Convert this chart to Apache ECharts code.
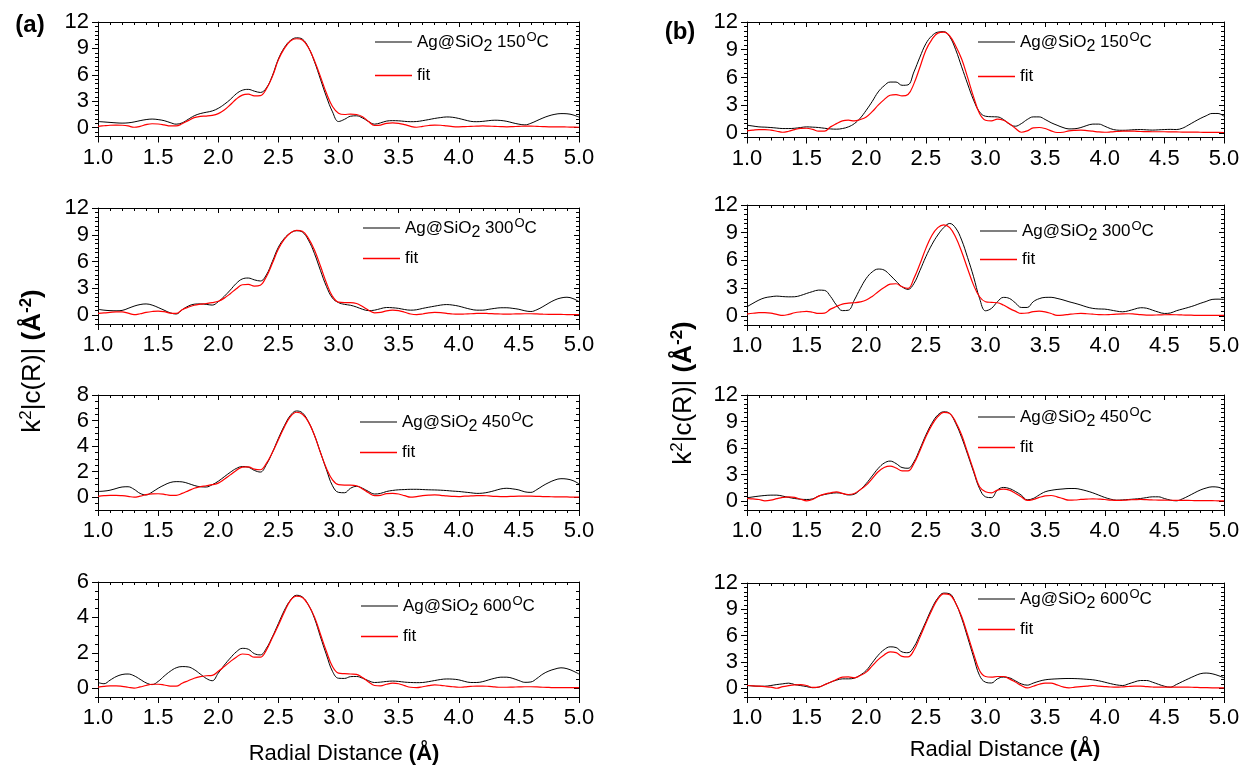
<!DOCTYPE html>
<html>
<head>
<meta charset="utf-8">
<script src="https://cdn.jsdelivr.net/npm/echarts@6/dist/echarts.min.js"></script>
<style>
html, body { margin: 0; padding: 0; background: #fff; }
#main { width: 1246px; height: 768px; }
</style>
</head>
<body>
<div id="main"></div>
<script>
// radial distance grid (Å)
var R = [
1.00,1.05,1.10,1.15,1.20,1.25,1.30,1.35,1.40,1.45,
1.50,1.55,1.60,1.65,1.70,1.75,1.80,1.85,1.90,1.95,
2.00,2.05,2.10,2.15,2.20,2.25,2.30,2.35,2.40,2.45,
2.50,2.55,2.60,2.65,2.70,2.75,2.80,2.85,2.90,2.95,
3.00,3.05,3.10,3.15,3.20,3.25,3.30,3.35,3.40,3.45,
3.50,3.55,3.60,3.65,3.70,3.75,3.80,3.85,3.90,3.95,
4.00,4.05,4.10,4.15,4.20,4.25,4.30,4.35,4.40,4.45,
4.50,4.55,4.60,4.65,4.70,4.75,4.80,4.85,4.90,4.95,
5.00];

var temps = ['150', '300', '450', '600'];

// y tick labels
var yTicks12 = [0, 3, 6, 9, 12];
var yTicks8 = [0, 2, 4, 6, 8];
var yTicks6 = [0, 2, 4, 6];

// (a) data and fits
var aData150 = [
0.70,0.65,0.60,0.55,0.52,0.55,0.65,0.80,0.92,0.98,
0.92,0.80,0.58,0.40,0.55,0.95,1.35,1.60,1.75,1.90,
2.20,2.65,3.20,3.85,4.25,4.35,4.15,4.00,4.50,5.90,
7.80,9.10,9.90,10.20,10.05,9.10,7.50,5.50,3.50,1.80,
0.70,0.95,1.30,1.35,1.10,0.70,0.40,0.55,0.75,0.80,
0.78,0.72,0.68,0.70,0.80,0.92,1.05,1.15,1.22,1.18,
1.05,0.88,0.72,0.68,0.72,0.80,0.85,0.82,0.72,0.55,
0.40,0.32,0.50,0.80,1.10,1.35,1.52,1.60,1.58,1.45,
1.20];
var aFit150 = [
0.15,0.22,0.28,0.30,0.28,0.20,0.05,0.15,0.35,0.45,
0.42,0.32,0.20,0.20,0.45,0.80,1.15,1.28,1.32,1.40,
1.60,2.00,2.60,3.25,3.70,3.80,3.62,3.65,4.40,5.80,
7.70,9.00,9.85,10.10,9.95,9.10,7.60,5.80,3.90,2.40,
1.65,1.50,1.55,1.50,1.25,0.70,0.25,0.30,0.50,0.55,
0.50,0.35,0.15,0.05,0.15,0.25,0.30,0.28,0.20,0.12,
0.10,0.12,0.15,0.18,0.20,0.18,0.15,0.12,0.10,0.12,
0.15,0.18,0.18,0.15,0.12,0.10,0.10,0.10,0.08,0.07,
0.05];
var aData300 = [
0.65,0.55,0.50,0.48,0.52,0.75,1.00,1.18,1.25,1.12,
0.85,0.55,0.25,0.12,0.60,1.00,1.22,1.25,1.20,1.12,
1.50,2.10,2.80,3.55,4.05,4.15,3.95,3.82,4.50,6.00,
7.60,8.60,9.20,9.45,9.30,8.40,6.90,5.00,3.20,1.90,
1.40,1.20,1.10,0.90,0.65,0.50,0.55,0.72,0.85,0.82,
0.75,0.62,0.55,0.60,0.75,0.88,1.00,1.12,1.18,1.12,
1.00,0.82,0.65,0.55,0.55,0.65,0.75,0.82,0.82,0.75,
0.65,0.48,0.40,0.60,0.95,1.35,1.70,1.92,2.00,1.85,
1.50];
var aFit300 = [
0.18,0.25,0.30,0.35,0.35,0.22,0.05,0.15,0.30,0.40,
0.45,0.38,0.22,0.18,0.60,0.88,1.10,1.22,1.30,1.40,
1.55,1.90,2.40,2.95,3.40,3.45,3.25,3.35,4.30,5.80,
7.40,8.50,9.20,9.50,9.40,8.60,7.30,5.50,3.60,2.10,
1.45,1.40,1.40,1.30,0.95,0.55,0.25,0.30,0.48,0.55,
0.50,0.32,0.12,0.05,0.12,0.25,0.30,0.27,0.20,0.12,
0.10,0.12,0.15,0.18,0.20,0.17,0.14,0.12,0.10,0.12,
0.14,0.15,0.15,0.13,0.10,0.08,0.08,0.07,0.06,0.05,
0.05];
var aData450 = [
0.45,0.48,0.55,0.68,0.80,0.82,0.62,0.30,0.18,0.40,
0.70,0.95,1.15,1.22,1.20,1.08,0.92,0.82,0.80,0.98,
1.25,1.60,1.95,2.25,2.40,2.35,2.10,1.97,2.55,3.50,
4.60,5.60,6.40,6.75,6.60,5.90,4.85,3.50,2.15,0.90,
0.38,0.35,0.70,0.85,0.70,0.45,0.25,0.30,0.45,0.53,
0.58,0.60,0.62,0.62,0.60,0.58,0.57,0.55,0.52,0.48,
0.45,0.40,0.35,0.30,0.32,0.40,0.52,0.65,0.70,0.65,
0.57,0.42,0.38,0.60,0.90,1.15,1.35,1.45,1.42,1.30,
1.05];
var aFit450 = [
0.07,0.12,0.15,0.15,0.12,0.07,0.00,0.08,0.20,0.26,
0.27,0.23,0.15,0.15,0.30,0.50,0.70,0.82,0.90,0.98,
1.10,1.40,1.75,2.10,2.35,2.38,2.20,2.15,2.65,3.50,
4.50,5.50,6.30,6.65,6.50,5.90,4.85,3.50,2.25,1.35,
0.98,0.95,0.95,0.90,0.65,0.35,0.12,0.15,0.28,0.30,
0.25,0.12,0.00,0.05,0.12,0.16,0.18,0.15,0.10,0.07,
0.05,0.08,0.10,0.12,0.13,0.10,0.07,0.05,0.05,0.07,
0.08,0.08,0.08,0.07,0.05,0.04,0.03,0.03,0.02,0.01,
0.00];
var aData600 = [
0.32,0.25,0.45,0.65,0.77,0.80,0.70,0.50,0.30,0.20,
0.38,0.68,0.95,1.15,1.22,1.20,1.05,0.80,0.55,0.42,
0.85,1.30,1.70,2.05,2.25,2.20,1.95,1.88,2.25,2.90,
3.65,4.40,4.97,5.25,5.15,4.70,3.95,2.90,1.88,0.95,
0.56,0.55,0.65,0.66,0.56,0.42,0.32,0.34,0.38,0.40,
0.38,0.34,0.32,0.31,0.32,0.37,0.43,0.49,0.52,0.51,
0.47,0.38,0.32,0.32,0.37,0.47,0.56,0.62,0.62,0.55,
0.43,0.33,0.35,0.55,0.80,0.97,1.08,1.15,1.10,0.97,
0.80];
var aFit600 = [
0.06,0.10,0.13,0.13,0.10,0.05,0.00,0.07,0.15,0.22,
0.22,0.18,0.12,0.11,0.28,0.42,0.56,0.65,0.70,0.72,
0.95,1.22,1.50,1.75,1.93,1.90,1.75,1.75,2.15,2.85,
3.55,4.30,4.95,5.20,5.12,4.70,4.03,3.05,2.07,1.22,
0.85,0.82,0.80,0.78,0.60,0.35,0.15,0.13,0.22,0.28,
0.25,0.14,0.05,0.03,0.08,0.14,0.18,0.16,0.12,0.08,
0.05,0.07,0.10,0.12,0.12,0.10,0.07,0.05,0.05,0.06,
0.07,0.08,0.08,0.07,0.05,0.04,0.03,0.03,0.03,0.03,
0.03];

// (b) data and fits
var bData150 = [
0.83,0.74,0.65,0.62,0.58,0.52,0.47,0.47,0.50,0.58,
0.65,0.62,0.58,0.50,0.43,0.40,0.47,0.65,1.00,1.60,
2.45,3.40,4.43,5.10,5.50,5.50,5.15,5.20,6.60,8.20,
9.65,10.50,10.90,10.95,10.40,9.00,7.15,5.30,3.55,2.27,
1.80,1.75,1.73,1.45,0.95,0.72,1.00,1.45,1.73,1.73,
1.45,1.10,0.83,0.58,0.43,0.45,0.58,0.80,0.95,0.95,
0.72,0.45,0.30,0.28,0.30,0.35,0.36,0.33,0.30,0.33,
0.36,0.38,0.36,0.50,0.83,1.20,1.55,1.85,2.10,2.10,
1.80];
var bFit150 = [
0.22,0.30,0.36,0.36,0.30,0.18,0.07,0.18,0.36,0.48,
0.50,0.38,0.18,0.18,0.65,1.00,1.30,1.37,1.30,1.45,
1.73,2.30,3.00,3.60,4.07,4.15,4.00,4.15,5.33,7.10,
8.95,10.10,10.80,10.90,10.50,9.40,8.00,6.00,3.90,2.10,
1.37,1.30,1.48,1.37,1.00,0.50,0.07,0.22,0.54,0.58,
0.47,0.22,0.04,0.07,0.22,0.28,0.30,0.25,0.18,0.10,
0.07,0.10,0.15,0.20,0.20,0.18,0.15,0.14,0.12,0.12,
0.12,0.11,0.10,0.09,0.08,0.08,0.07,0.06,0.05,0.05,
0.04];
var bData300 = [
0.98,1.35,1.70,1.95,2.06,2.13,2.08,2.05,2.06,2.20,
2.42,2.62,2.78,2.75,2.10,1.16,0.56,0.60,1.70,2.95,
4.05,4.75,5.06,4.95,4.40,3.75,3.14,2.86,3.50,4.90,
6.40,7.70,8.75,9.55,10.00,9.50,8.20,6.30,4.23,1.90,
0.54,0.80,1.52,1.99,1.88,1.40,0.90,0.90,1.52,1.85,
1.99,2.00,1.88,1.72,1.52,1.35,1.16,0.95,0.80,0.74,
0.72,0.62,0.50,0.43,0.54,0.72,0.87,0.82,0.61,0.40,
0.25,0.30,0.54,0.72,0.90,1.10,1.34,1.55,1.77,1.80,
1.77];
var bFit300 = [
0.18,0.27,0.33,0.33,0.29,0.15,0.04,0.15,0.33,0.42,
0.47,0.38,0.25,0.28,0.72,1.00,1.26,1.36,1.41,1.50,
1.70,2.10,2.60,3.05,3.43,3.47,3.14,2.96,4.05,5.60,
7.30,8.70,9.55,9.85,9.55,8.50,6.94,5.10,3.32,2.06,
1.52,1.45,1.41,1.16,0.80,0.50,0.25,0.30,0.45,0.50,
0.43,0.25,0.04,0.07,0.15,0.22,0.25,0.22,0.17,0.13,
0.11,0.14,0.18,0.21,0.22,0.18,0.12,0.08,0.07,0.09,
0.11,0.12,0.11,0.09,0.07,0.05,0.04,0.04,0.04,0.04,
0.04];
var bData450 = [
0.38,0.48,0.57,0.64,0.68,0.68,0.57,0.42,0.30,0.22,
0.19,0.26,0.57,0.75,0.87,0.94,0.87,0.70,0.79,1.30,
2.00,2.85,3.70,4.30,4.53,4.25,3.80,3.72,4.45,5.90,
7.47,8.80,9.74,10.10,9.92,8.80,7.20,5.30,3.32,1.43,
0.49,0.40,1.25,1.55,1.43,1.10,0.68,0.15,0.30,0.70,
1.06,1.22,1.32,1.38,1.43,1.43,1.32,1.15,0.94,0.68,
0.42,0.22,0.11,0.14,0.19,0.24,0.30,0.40,0.49,0.49,
0.30,0.12,0.04,0.25,0.57,0.92,1.25,1.48,1.62,1.58,
1.32];
var bFit450 = [
0.30,0.25,0.19,0.04,0.11,0.28,0.42,0.49,0.42,0.22,
0.04,0.19,0.57,0.80,0.94,1.06,0.87,0.75,0.87,1.30,
1.81,2.55,3.32,3.80,3.96,3.75,3.43,3.43,4.26,5.70,
7.28,8.60,9.55,10.04,9.92,8.95,7.47,5.50,3.50,1.62,
1.06,0.94,1.25,1.36,1.25,0.90,0.49,0.08,0.19,0.42,
0.60,0.64,0.49,0.28,0.11,0.13,0.19,0.23,0.26,0.23,
0.19,0.12,0.08,0.10,0.14,0.17,0.19,0.17,0.14,0.12,
0.11,0.10,0.09,0.08,0.08,0.07,0.06,0.05,0.05,0.04,
0.04];
var bData600 = [
0.31,0.26,0.23,0.23,0.31,0.42,0.50,0.58,0.42,0.30,
0.19,0.06,0.12,0.40,0.69,0.92,1.07,1.07,1.15,1.50,
2.03,2.90,3.76,4.40,4.72,4.64,4.14,4.05,4.72,6.10,
7.59,9.10,10.28,10.85,10.77,9.70,7.98,5.80,3.57,1.46,
0.69,0.60,1.07,1.27,1.19,0.85,0.50,0.35,0.58,0.80,
0.96,1.03,1.07,1.10,1.11,1.10,1.07,1.02,0.96,0.85,
0.69,0.52,0.38,0.31,0.50,0.72,0.88,0.88,0.69,0.45,
0.23,0.12,0.42,0.75,1.07,1.38,1.65,1.73,1.65,1.45,
1.19];
var bFit600 = [
0.31,0.27,0.23,0.18,0.12,0.00,0.19,0.30,0.38,0.42,
0.31,0.10,0.12,0.40,0.69,1.00,1.27,1.30,1.19,1.45,
1.84,2.55,3.26,3.80,4.14,4.06,3.64,3.57,4.33,5.80,
7.40,8.90,10.16,10.77,10.66,9.70,8.17,6.10,3.95,2.03,
1.34,1.27,1.34,1.34,1.07,0.70,0.31,0.04,0.23,0.45,
0.58,0.58,0.38,0.15,0.04,0.12,0.19,0.25,0.31,0.25,
0.19,0.14,0.12,0.15,0.20,0.23,0.23,0.18,0.14,0.12,
0.12,0.13,0.13,0.12,0.12,0.10,0.08,0.06,0.05,0.05,
0.04];

var FONT = '"Liberation Sans", Arial, Helvetica, sans-serif';

// layout of the 8 panels
var panels = [
    { data: aData150, fit: aFit150, t: temps[0], left: 98, top: 22, w: 481, h: 114.5, min: -1, max: 12, ticks: yTicks12, lx: 375, ly: 43, fy: 76 },
    { data: aData300, fit: aFit300, t: temps[1], left: 98, top: 208, w: 481, h: 116, min: -1, max: 12, ticks: yTicks12, lx: 363, ly: 229, fy: 259 },
    { data: aData450, fit: aFit450, t: temps[2], left: 98, top: 395, w: 481, h: 115, min: -1, max: 8, ticks: yTicks8, lx: 360, ly: 423, fy: 453 },
    { data: aData600, fit: aFit600, t: temps[3], left: 98, top: 582, w: 481, h: 115, min: -0.5, max: 6, ticks: yTicks6, lx: 361, ly: 607, fy: 637 },
    { data: bData150, fit: bFit150, t: temps[0], left: 747, top: 22, w: 477, h: 115.5, min: -0.5, max: 12, ticks: yTicks12, lx: 978, ly: 43, fy: 77 },
    { data: bData300, fit: bFit300, t: temps[1], left: 747, top: 205, w: 477, h: 120, min: -1, max: 12, ticks: yTicks12, lx: 980, ly: 232, fy: 260 },
    { data: bData450, fit: bFit450, t: temps[2], left: 747, top: 395, w: 477, h: 115, min: -1, max: 12, ticks: yTicks12, lx: 978, ly: 418, fy: 448 },
    { data: bData600, fit: bFit600, t: temps[3], left: 747, top: 583, w: 477, h: 114, min: -1, max: 12, ticks: yTicks12, lx: 978, ly: 600, fy: 630 }
];

var black = '#000';
var legendRich = {
    t: { fontSize: 17, color: black, fontFamily: FONT },
    sb: { fontSize: 16, color: black, fontFamily: FONT, padding: [9, 0, 0, 0] },
    sp: { fontSize: 13, color: black, fontFamily: FONT, padding: [0, 0, 10, 1] }
};

var option = {
    animation: false,
    backgroundColor: '#fff',
    grid: [], xAxis: [], yAxis: [], legend: [], series: [],
    graphic: []
};

panels.forEach(function (p, i) {
    option.grid.push({ left: p.left, top: p.top, width: p.w, height: p.h });

    var line = { show: true, onZero: false, lineStyle: { color: black, width: 1 } };
    // bottom x axis with labels, top x axis as frame
    option.xAxis.push({
        gridIndex: i, type: 'value', position: 'bottom', min: 1, max: 5, interval: 0.5,
        axisLine: line, splitLine: { show: false },
        axisTick: { length: 6, lineStyle: { color: black } },
        minorTick: { show: true, splitNumber: 5, length: 3, lineStyle: { color: black } },
        axisLabel: { fontSize: 22, color: black, fontFamily: FONT, margin: 10,
            formatter: function (v) { return v.toFixed(1); } }
    });
    option.xAxis.push({
        gridIndex: i, type: 'value', position: 'top', min: 1, max: 5, interval: 0.5,
        axisLine: line, splitLine: { show: false },
        axisTick: { inside: true, length: 5, lineStyle: { color: black } },
        minorTick: { show: true, splitNumber: 5, length: 3, lineStyle: { color: black } },
        axisLabel: { show: false }
    });
    // y axes: minor ticks + major ticks, left outside and right inside
    option.yAxis.push({
        gridIndex: i, type: 'value', position: 'left', min: p.min, max: p.max, interval: 0.5,
        axisLine: line, splitLine: { show: false },
        axisTick: { length: 3, lineStyle: { color: black } },
        axisLabel: { show: false }
    });
    option.yAxis.push({
        gridIndex: i, type: 'value', position: 'left', min: p.min, max: p.max, interval: 0.5,
        axisLine: { show: false }, splitLine: { show: false },
        axisTick: { length: 6, customValues: p.ticks, lineStyle: { color: black } },
        axisLabel: { fontSize: 22, color: black, fontFamily: FONT, margin: 9, customValues: p.ticks }
    });
    option.yAxis.push({
        gridIndex: i, type: 'value', position: 'right', min: p.min, max: p.max, interval: 0.5,
        axisLine: line, splitLine: { show: false },
        axisTick: { inside: true, length: 3, lineStyle: { color: black } },
        axisLabel: { show: false }
    });
    option.yAxis.push({
        gridIndex: i, type: 'value', position: 'right', min: p.min, max: p.max, interval: 0.5,
        axisLine: { show: false }, splitLine: { show: false },
        axisTick: { inside: true, length: 5, customValues: p.ticks, lineStyle: { color: black } },
        axisLabel: { show: false }
    });

    var name = 'Ag@SiO2 ' + p.t + 'oC';
    option.series.push({
        name: name, type: 'line', xAxisIndex: i * 2, yAxisIndex: i * 4,
        data: R.map(function (r, k) { return [r, p.data[k]]; }),
        showSymbol: false, symbol: 'none', smooth: 0.4,
        lineStyle: { color: black, width: 1 }, itemStyle: { color: black }
    });
    option.series.push({
        name: 'fit', type: 'line', xAxisIndex: i * 2, yAxisIndex: i * 4,
        data: R.map(function (r, k) { return [r, p.fit[k]]; }),
        showSymbol: false, symbol: 'none', smooth: 0.4,
        lineStyle: { color: '#ff0000', width: 1.2 }, itemStyle: { color: '#ff0000' }
    });

    option.legend.push({
        data: [name], left: p.lx, top: p.ly - 12.5, padding: 0,
        icon: 'rect', itemWidth: 37, itemHeight: 1.2, selectedMode: false,
        textStyle: { rich: legendRich },
        formatter: function (n) {
            var t = n.match(/(\d{3})/)[1];
            return '{t|Ag@SiO}{sb|2}{t| ' + t + '}{sp|O}{t|C}';
        }
    });
    option.legend.push({
        data: ['fit'], left: p.lx, top: p.fy - 9, padding: 0,
        icon: 'rect', itemWidth: 37, itemHeight: 1.4, selectedMode: false,
        textStyle: { rich: legendRich },
        formatter: function () { return '{t|fit}'; }
    });
});

// axis titles and panel labels
var yTitleRich = {
    n: { fontSize: 26, color: black, fontFamily: FONT },
    s: { fontSize: 17, color: black, fontFamily: FONT, padding: [0, 0, 13, 0] },
    b: { fontSize: 26, color: black, fontFamily: FONT, fontWeight: 'bold' },
    bs: { fontSize: 17, color: black, fontFamily: FONT, fontWeight: 'bold', padding: [0, 0, 13, 0] }
};
var yTitle = '{n|k}{s|2}{n||c(R)| }{b|(Å}{bs|-2}{b|)}';
var xTitle = '{n|Radial Distance }{b|(Å)}';
var xTitleRich = {
    n: { fontSize: 22, color: black, fontFamily: FONT },
    b: { fontSize: 22, color: black, fontFamily: FONT, fontWeight: 'bold' }
};

option.graphic = [
    { type: 'text', x: 33, y: 361, rotation: Math.PI / 2,
      style: { text: yTitle, rich: yTitleRich, align: 'center', verticalAlign: 'middle' } },
    { type: 'text', x: 684, y: 393, rotation: Math.PI / 2,
      style: { text: yTitle, rich: yTitleRich, align: 'center', verticalAlign: 'middle' } },
    { type: 'text', x: 344, y: 754,
      style: { text: xTitle, rich: xTitleRich, align: 'center', verticalAlign: 'middle' } },
    { type: 'text', x: 1005, y: 750,
      style: { text: xTitle, rich: xTitleRich, align: 'center', verticalAlign: 'middle' } },
    { type: 'text', x: 30, y: 25,
      style: { text: '(a)', font: 'bold 24px ' + FONT, fill: black, align: 'center', verticalAlign: 'middle' } },
    { type: 'text', x: 680, y: 32,
      style: { text: '(b)', font: 'bold 24px ' + FONT, fill: black, align: 'center', verticalAlign: 'middle' } }
];

var myChart = echarts.init(document.getElementById('main'));
myChart.setOption(option);
</script>
</body>
</html>
